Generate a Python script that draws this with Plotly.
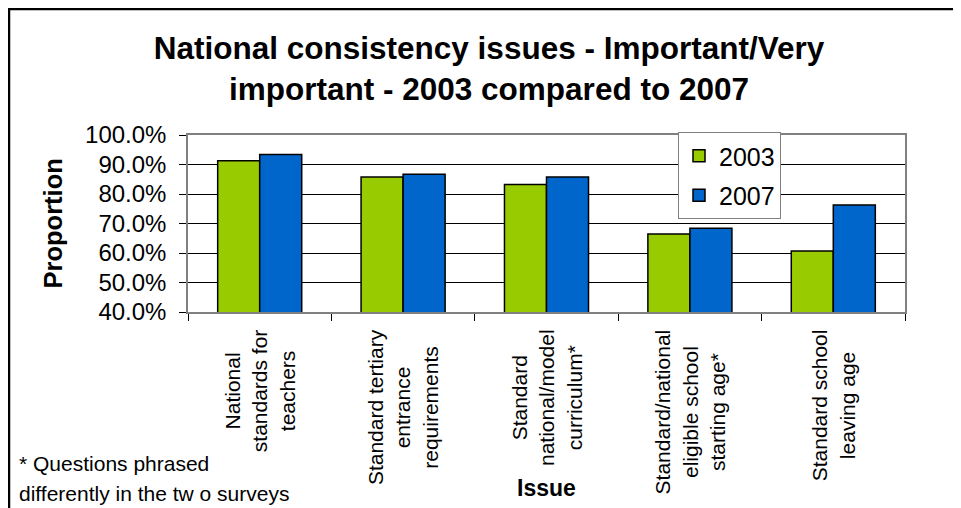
import plotly.graph_objects as go

categories = [
    "National<br>standards for<br>teachers",
    "Standard tertiary<br>entrance<br>requirements",
    "Standard<br>national/model<br>curriculum*",
    "Standard/national<br>eligible school<br>starting age*",
    "Standard school<br>leaving age",
]
cat_keys = ["c1", "c2", "c3", "c4", "c5"]
values_2003 = [0.913, 0.858, 0.832, 0.664, 0.607]
values_2007 = [0.934, 0.867, 0.858, 0.684, 0.763]
y_ticks = [0.4, 0.5, 0.6, 0.7, 0.8, 0.9, 1.0]

# page has an 8px body margin; figure sized to fit the window
OFF = 8
W, H = 953, 500
L, R, T, B = 180, 56, 127, 196
pw, ph = W - L - R, H - T - B


def px(x):  # page x -> paper
    return (x - OFF - L) / pw


def py(y):  # page y -> paper
    return (H - B - (y - OFF)) / ph


fig = go.Figure()
fig.add_trace(go.Bar(x=cat_keys, y=values_2003, name="2003", legendgroup="a",
                     marker=dict(color="#99CC00", line=dict(color="black", width=1.5))))
fig.add_trace(go.Bar(x=cat_keys, y=values_2007, name="2007", legendgroup="b",
                     marker=dict(color="#0066CC", line=dict(color="black", width=1.5))))

annotations = []
for k, lab in zip(cat_keys, categories):
    annotations.append(dict(x=k, xref="x", y=py(327), yref="paper", text=lab,
                            textangle=-90, showarrow=False, xanchor="center", yanchor="top",
                            align="center", font=dict(size=21, color="black")))
annotations += [
    dict(x=px(52), y=0.5, xref="paper", yref="paper", text="<b>Proportion</b>", textangle=-90,
         showarrow=False, xanchor="center", yanchor="middle", font=dict(size=25.5, color="black")),
    dict(x=px(546), y=py(488), xref="paper", yref="paper", text="<b>Issue</b>",
         showarrow=False, xanchor="center", yanchor="middle", font=dict(size=23, color="black")),
    dict(x=px(17), y=py(463), xref="paper", yref="paper", text="* Questions phrased",
         showarrow=False, xanchor="left", yanchor="middle", font=dict(size=21, color="black")),
    dict(x=px(17), y=py(493), xref="paper", yref="paper", text="differently in the tw o surveys",
         showarrow=False, xanchor="left", yanchor="middle", font=dict(size=21, color="black")),
]

shapes = [
    dict(type="line", xref="paper", yref="paper", x0=px(8), x1=px(975), y0=py(9), y1=py(9),
         line=dict(color="black", width=2.5)),
    dict(type="line", xref="paper", yref="paper", x0=px(9), x1=px(9), y0=py(8), y1=py(520),
         line=dict(color="black", width=2.5)),
]

fig.update_layout(
    width=W, height=H,
    margin=dict(l=L, r=R, t=T, b=B),
    paper_bgcolor="white", plot_bgcolor="white",
    font=dict(family="Arial, Liberation Sans, sans-serif", color="black"),
    title=dict(text="<b>National consistency issues - Important/Very<br>important - 2003 compared to 2007</b>",
               x=(489 - OFF) / W, xanchor="center", xref="container",
               y=1 - 51 / H, yanchor="top", yref="container",
               font=dict(size=31.5, color="black")),
    barmode="group", bargap=0.414, bargroupgap=0,
    legend=dict(x=px(678), y=py(132), xanchor="left", yanchor="top",
                bgcolor="white", bordercolor="#808080", borderwidth=1,
                font=dict(size=25, color="black"), tracegroupgap=4),
    xaxis=dict(showticklabels=False, ticks="outside", tickson="boundaries", ticklen=7,
               tickcolor="black", showline=True, linecolor="#808080", linewidth=1.5, mirror=True,
               showgrid=False),
    yaxis=dict(range=[0.4, 1.0], tickvals=y_ticks, tickformat=".1%", ticks="outside", ticklen=7,
               tickcolor="black", showline=True, linecolor="#808080", linewidth=1.5, mirror=True,
               showgrid=True, gridcolor="black", gridwidth=1,
               tickfont=dict(size=24, color="black"), ticklabelstandoff=8),
    annotations=annotations,
    shapes=shapes,
    showlegend=True,
)

fig.write_html("out.html")
